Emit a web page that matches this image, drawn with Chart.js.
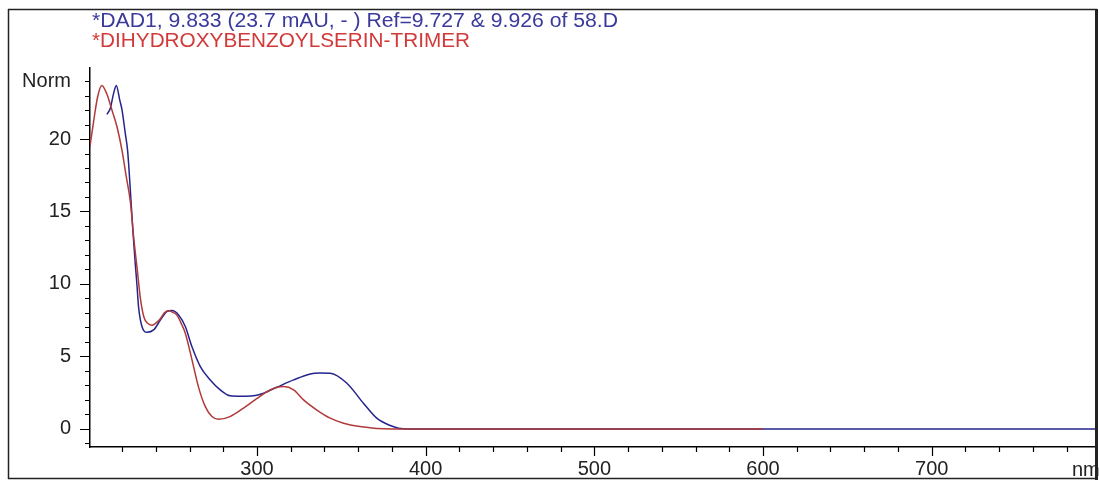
<!DOCTYPE html>
<html><head><meta charset="utf-8">
<script src="https://cdn.jsdelivr.net/npm/chart.js@4"></script>
<style>html,body{margin:0;padding:0;background:#fff}#wrap{width:1099px;height:480px}</style>
</head><body><div id="wrap"><canvas id="c" width="1099" height="480"></canvas></div>
<script>
const titleLine1 = '*DAD1, 9.833 (23.7 mAU, - ) Ref=9.727 & 9.926 of 58.D';
const titleLine2 = '*DIHYDROXYBENZOYLSERIN-TRIMER';
const yUnit = 'Norm';
const xUnit = 'nm';
const xTickLabels = [300, 400, 500, 600, 700];
const yTickLabels = [0, 5, 10, 15, 20];

// Reference spectrum (red)
const refWavelength = [201, 203, 205.5, 208, 211, 214, 217, 220, 222.5, 225, 227, 229, 231, 233, 235, 237.7, 240, 242.7, 245, 247.6, 250, 252.5, 255, 257.5, 261.4, 265.3, 269.3, 273.3, 277.2, 284, 292, 300, 308, 315.7, 321.7, 327.6, 335.5, 343.4, 351.3, 361, 371, 380, 600];
const refValue = [19.5, 21.1, 22.9, 23.7, 23.1, 22.0, 20.85, 19.2, 17.4, 15.6, 13.1, 11.0, 8.9, 7.7, 7.3, 7.15, 7.3, 7.6, 8.0, 8.15, 8.05, 7.85, 7.3, 6.6, 4.8, 2.9, 1.55, 0.85, 0.66, 0.85, 1.43, 2.1, 2.7, 2.92, 2.7, 2.0, 1.3, 0.74, 0.39, 0.16, 0.03, 0, 0];

// Sample spectrum DAD1 (blue)
const sampleWavelength = [211, 213, 215, 216.6, 218.6, 220, 221.9, 223.3, 224.9, 226.4, 227.9, 228.8, 229.8, 231.8, 234.8, 238.7, 242.7, 246.6, 249.6, 253.5, 257.5, 261.4, 266.4, 272.3, 278.2, 284.1, 291, 298, 303.9, 311.8, 321.7, 331.6, 337, 343.4, 353.3, 363.1, 371, 379, 384, 390, 800];
const sampleValue = [21.7, 22.1, 23.15, 23.7, 22.7, 22.0, 20.4, 19.2, 16.5, 13.7, 11.3, 10.0, 8.4, 7.06, 6.67, 6.83, 7.5, 8.1, 8.16, 7.86, 7.06, 5.68, 4.3, 3.38, 2.69, 2.28, 2.25, 2.28, 2.46, 2.87, 3.38, 3.79, 3.85, 3.84, 3.15, 1.77, 0.74, 0.23, 0.05, 0, 0];

const toPts = (xs, ys) => xs.map((x, i) => ({x: x, y: ys[i]}));
const FONT = '"Liberation Sans", Arial, sans-serif';

const decor = {
  id: 'decor',
  afterDraw(chart) {
    const ctx = chart.ctx, a = chart.chartArea;
    const sx = chart.scales.x, sy = chart.scales.y;
    ctx.save();
    ctx.strokeStyle = '#000';
    ctx.lineWidth = 1.2;
    ctx.beginPath();
    sx.ticks.forEach(t => {
      const v = Math.round(t.value);
      const px = Math.round(sx.getPixelForValue(v)) + 0.5;
      const len = v % 100 === 0 ? 9 : 5;
      ctx.moveTo(px, a.bottom); ctx.lineTo(px, a.bottom + len);
    });
    sy.ticks.forEach(t => {
      const v = Math.round(t.value);
      const py = Math.round(sy.getPixelForValue(v)) + 0.5;
      const len = yTickLabels.includes(v) ? 10 : 5;
      ctx.moveTo(a.left - len, py); ctx.lineTo(a.left, py);
    });
    ctx.stroke();

    // titles
    ctx.textBaseline = 'middle';
    ctx.textAlign = 'left';
    ctx.font = '20px ' + FONT;
    const drawStretched = (txt, x, y, w, col) => {
      const m = ctx.measureText(txt).width;
      ctx.save();
      ctx.translate(x, y);
      ctx.scale(w / m, 1);
      ctx.fillStyle = col;
      ctx.fillText(txt, 0, 0);
      ctx.restore();
    };
    drawStretched(titleLine1, 92, 21, 526, '#3a3a9c');
    drawStretched(titleLine2, 92, 41, 378, '#d23a3a');

    // unit label
    ctx.fillStyle = '#222';
    ctx.fillText(xUnit, 1072, 470);

    // frame
    ctx.strokeStyle = '#222';
    ctx.lineWidth = 1.5;
    ctx.beginPath();
    ctx.moveTo(8, 9.5); ctx.lineTo(1097, 9.5);
    ctx.moveTo(8.5, 9); ctx.lineTo(8.5, 479);
    ctx.moveTo(8, 478.5); ctx.lineTo(1097, 478.5);
    ctx.stroke();
    ctx.lineWidth = 3;
    ctx.beginPath();
    ctx.moveTo(1096.5, 9); ctx.lineTo(1096.5, 480);
    ctx.stroke();
    ctx.restore();
  }
};

new Chart(document.getElementById('c'), {
  type: 'line',
  data: {
    datasets: [
      {label: titleLine2, data: toPts(refWavelength, refValue), borderColor: '#b03a3a', borderWidth: 1.5, pointRadius: 0, cubicInterpolationMode: 'monotone', fill: false},
      {label: titleLine1, data: toPts(sampleWavelength, sampleValue), borderColor: '#24248c', borderWidth: 1.5, pointRadius: 0, cubicInterpolationMode: 'monotone', fill: false}
    ]
  },
  options: {
    responsive: false,
    animation: false,
    devicePixelRatio: 1,
    layout: {padding: {top: 68, right: 2, left: 0, bottom: 0}},
    plugins: {legend: {display: false}, tooltip: {enabled: false}, title: {display: false}},
    scales: {
      x: {
        type: 'linear', min: 201, max: 798,
        grid: {display: false, drawTicks: false},
        border: {display: true, color: '#000', width: 1.5},
        ticks: {
          stepSize: 20, includeBounds: false, autoSkip: false, maxRotation: 0, minRotation: 0,
          padding: 10, color: '#222', font: {family: FONT, size: 20},
          callback: v => xTickLabels.includes(Math.round(v)) ? String(Math.round(v)) : ''
        },
        afterFit: s => { s.height = 33; }
      },
      y: {
        type: 'linear', min: -1.25, max: 24.9,
        grid: {display: false, drawTicks: false},
        border: {display: true, color: '#000', width: 1.5},
        ticks: {
          stepSize: 1, includeBounds: false, autoSkip: false,
          padding: 19, color: '#222', font: {family: FONT, size: 20},
          callback: v => { const r = Math.round(v); return r === 24 ? yUnit : (yTickLabels.includes(r) ? String(r) : ''); }
        },
        afterFit: s => { s.width = 90; }
      }
    }
  },
  plugins: [decor]
});
</script>
</body></html>
